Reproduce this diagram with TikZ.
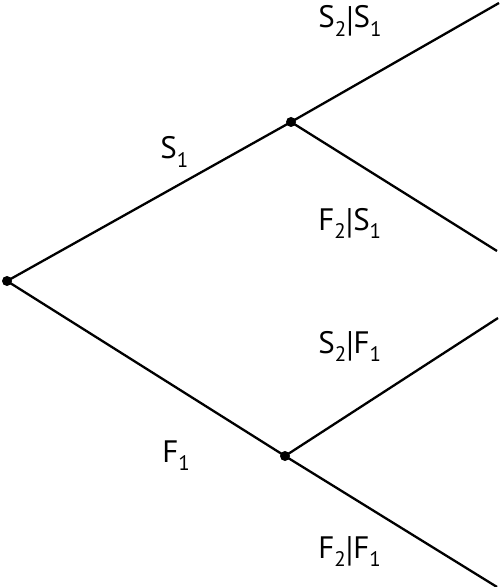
\documentclass[tikz,border=0pt]{standalone}
\usepackage{fontspec}
\setmainfont{PT Sans}
\newcommand{\pidx}[1]{\raisebox{-0.55ex}{\fontsize{10.5}{11}\selectfont #1}}
\newcommand{\pbar}{\raisebox{-0.25ex}{\scalebox{1}[1.15]{|}}}
\tikzset{
    branchdot/.style={circle,fill,inner sep=0pt,minimum size=5pt},
    branch/.style={line width=1.15pt},
    prob/.style={anchor=base west,inner sep=0pt,font=\fontsize{15.5}{17}\selectfont}
}
\begin{document}
\begin{tikzpicture}[x=0.5pt,y=-0.5pt]
        \useasboundingbox (0,0) rectangle (501,587);

        %%%%%%%%% Nodi %%%%%%%%%
        \node[branchdot] (root) at (7,281) {};
        \node[branchdot] (s1) at (291,122) {};
        \node[branchdot] (f1) at (285,456) {};
        \coordinate (s1s2) at (499,3);
        \coordinate (s1f2) at (497,251);
        \coordinate (f1s2) at (498,318);
        \coordinate (f1f2) at (497,587);

        %%%%%%%%% Rami %%%%%%%%%
        \draw[branch] (root.center) -- (s1.center);
        \draw[branch] (root.center) -- (f1.center);
        \draw[branch] (s1.center) -- (s1s2);
        \draw[branch] (s1.center) -- (s1f2);
        \draw[branch] (f1.center) -- (f1s2);
        \draw[branch] (f1.center) -- (f1f2);

        %%%%%%%% Etichette %%%%%%%%
        \node[prob] (lS1) at (160,159) {S\pidx{1}};
        \node[prob] (lF1) at (162,462) {F\pidx{1}};
        \node[prob] (lS2S1) at (318,28) {S\pidx{2}\pbar S\pidx{1}};
        \node[prob] (lF2S1) at (318,230) {F\pidx{2}\pbar S\pidx{1}};
        \node[prob] (lS2F1) at (318,353) {S\pidx{2}\pbar F\pidx{1}};
        \node[prob] (lF2F1) at (318,558) {F\pidx{2}\pbar F\pidx{1}};
    \end{tikzpicture}
\end{document}
